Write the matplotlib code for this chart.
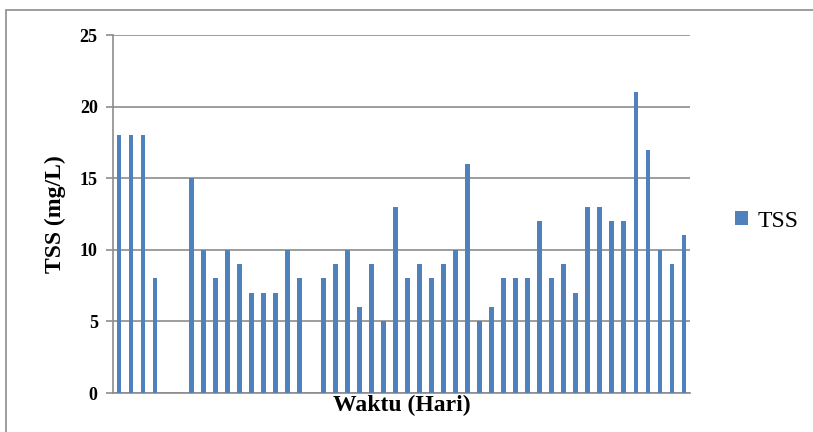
import numpy as np
import matplotlib.pyplot as plt
import matplotlib.patches as mpatches

# TSS per day (None = no measurement)
days = np.arange(1, 49)
tss = [18, 18, 18, 8, None, None, 15, 10, 8, 10, 9, 7, 7, 7, 10, 8,
       None, 8, 9, 10, 6, 9, 5, 13, 8, 9, 8, 9, 10, 16, 5, 6,
       8, 8, 8, 12, 8, 9, 7, 13, 13, 12, 12, 21, 17, 10, 9, 11]
yticks = [0, 5, 10, 15, 20, 25]

bar_color = '#4F81BD'
grid_color = '#8C8C8C'

plt.rcParams['font.family'] = ['Liberation Serif', 'DejaVu Serif']

fig = plt.figure(figsize=(8.13, 4.32), dpi=100)
fig.patches.append(mpatches.Rectangle((6/813, -0.1), 1.2, 1 - 10/432 + 0.1,
                                      transform=fig.transFigure, fill=False,
                                      edgecolor='#8C8C8C', linewidth=1.2))
ax = fig.add_axes([113/813, 39/432, 577/813, 358/432])

vals = np.array([np.nan if v is None else v for v in tss], dtype=float)
ax.bar(days, np.nan_to_num(vals), width=0.4, color=bar_color, zorder=3, label='TSS')

ax.set_xlim(days[0] - 0.5, days[-1] + 0.5)
ax.set_ylim(0, 25)
ax.set_yticks(yticks)
ax.set_yticklabels([str(t) for t in yticks], fontsize=13, fontweight='bold')
ax.set_xticks([])
ax.yaxis.grid(True, color=grid_color, linewidth=1.2, zorder=0)
ax.tick_params(axis='y', length=5, color=grid_color, width=1.2, pad=6)
for s in ['top', 'right']:
    ax.spines[s].set_visible(False)
ax.spines['left'].set_color(grid_color)
ax.spines['left'].set_linewidth(1.2)
ax.spines['bottom'].set_color(grid_color)
ax.spines['bottom'].set_linewidth(1.2)

ax.set_xlabel('Waktu (Hari)', fontsize=17, fontweight='bold', labelpad=1)
ax.set_ylabel('TSS (mg/L)', fontsize=17, fontweight='bold', labelpad=10)

ax.legend(loc='center left', bbox_to_anchor=(1.041, 0.48), frameon=False,
          fontsize=17, handlelength=0.55, handleheight=0.55, handletextpad=0.4)

fig.savefig('out.png', dpi=100)
